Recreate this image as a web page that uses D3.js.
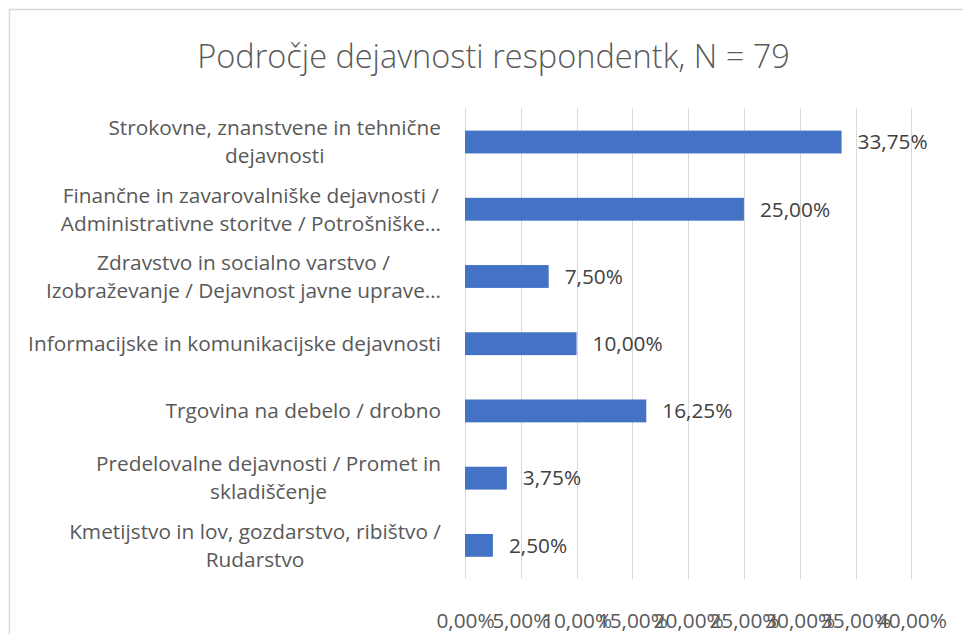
<!DOCTYPE html>
<html>
<head>
<meta charset="utf-8">
<script src="https://cdn.jsdelivr.net/npm/d3@7"></script>
<style>
  body { margin: 0; background: #fff; }
  svg { display: block; font-family: "Open Sans", sans-serif; }
</style>
</head>
<body>
<svg id="chart" width="963" height="634"></svg>
<script>
// Données (ordre d'affichage, de haut en bas)
const categories = [
  ['Strokovne, znanstvene in tehnične', 'dejavnosti'],
  ['Finančne in zavarovalniške dejavnosti /', 'Administrativne storitve / Potrošniške…'],
  ['Zdravstvo in socialno varstvo /', 'Izobraževanje / Dejavnost javne uprave…'],
  ['Informacijske in komunikacijske dejavnosti'],
  ['Trgovina na debelo / drobno'],
  ['Predelovalne dejavnosti / Promet in', 'skladiščenje'],
  ['Kmetijstvo in lov, gozdarstvo, ribištvo /', 'Rudarstvo']
]
const values = [0.3375, 0.25, 0.075, 0.10, 0.1625, 0.0375, 0.025]
const tickValues = [0, 0.05, 0.10, 0.15, 0.20, 0.25, 0.30, 0.35, 0.40]
const title = 'Področje dejavnosti respondentk, N = 79'

// Constantes de mise en page
const plotLeft = 465
const plotRight = 911.3
const plotTop = 108.4
const plotBottom = 579
const labelRight = 441
const fontSize = 20.8
const lineHeight = 28
const textColor = '#595959'

const locale = d3.formatLocale({ decimal: ',', thousands: '.', grouping: [3], currency: ['', ' €'] })
const pct = locale.format('.2%')

const svg = d3.select('#chart')
const keys = categories.map((c, i) => i)

const x = d3.scaleLinear().domain([0, 0.40]).range([plotLeft, plotRight])
const y = d3.scaleBand().domain(keys).range([plotTop, plotBottom])
  .paddingInner(0.66).paddingOuter(0.33)

// Cadre du graphique
svg.append('rect')
  .attr('x', 9.5).attr('y', 9.5)
  .attr('width', 980).attr('height', 650)
  .attr('fill', '#fff').attr('stroke', '#d9d9d9').attr('stroke-width', 1.5)

// Titre
svg.append('text')
  .attr('x', 493.5).attr('y', 67.7)
  .attr('text-anchor', 'middle')
  .attr('font-size', 32.5).attr('font-weight', 300)
  .attr('fill', textColor)
  .text(title)

// Grille verticale
svg.append('g')
  .selectAll('line')
  .data(tickValues)
  .join('line')
  .attr('x1', d => Math.round(x(d)) + 0.5).attr('x2', d => Math.round(x(d)) + 0.5)
  .attr('y1', plotTop).attr('y2', plotBottom)
  .attr('stroke', '#d9d9d9').attr('stroke-width', 1)

// Axe des x (étiquettes seulement)
const xAxis = svg.append('g')
  .attr('transform', 'translate(0,' + (plotBottom + 31) + ')')
  .call(d3.axisBottom(x).tickValues(tickValues).tickFormat(pct).tickSize(0))
xAxis.attr('font-family', null)
xAxis.select('.domain').remove()
xAxis.selectAll('text')
  .attr('font-size', fontSize)
  .attr('fill', textColor)

// Barres
svg.append('g')
  .selectAll('rect')
  .data(values)
  .join('rect')
  .attr('x', x(0))
  .attr('y', (d, i) => y(i))
  .attr('width', d => x(d) - x(0))
  .attr('height', y.bandwidth())
  .attr('fill', '#4472c4')

// Étiquettes de valeurs
svg.append('g')
  .selectAll('text')
  .data(values)
  .join('text')
  .attr('x', d => x(d) + 16)
  .attr('y', (d, i) => y(i) + y.bandwidth() / 2)
  .attr('dy', '0.35em')
  .attr('font-size', fontSize)
  .attr('fill', '#404040')
  .text(d => pct(d))

// Étiquettes de catégories (lignes centrées, bloc aligné à droite)
const catG = svg.append('g')
categories.forEach(function (lines, i) {
  const cy = y(i) + y.bandwidth() / 2
  const g = catG.append('g')
  const texts = lines.map(function (line, k) {
    return g.append('text')
      .attr('y', cy + (k - (lines.length - 1) / 2) * lineHeight)
      .attr('dy', '0.35em')
      .attr('font-size', fontSize)
      .attr('fill', textColor)
      .attr('text-anchor', 'middle')
      .text(line)
  })
  const maxW = d3.max(texts, t => t.node().getComputedTextLength())
  texts.forEach(t => t.attr('x', labelRight - maxW / 2))
})
</script>
</body>
</html>
